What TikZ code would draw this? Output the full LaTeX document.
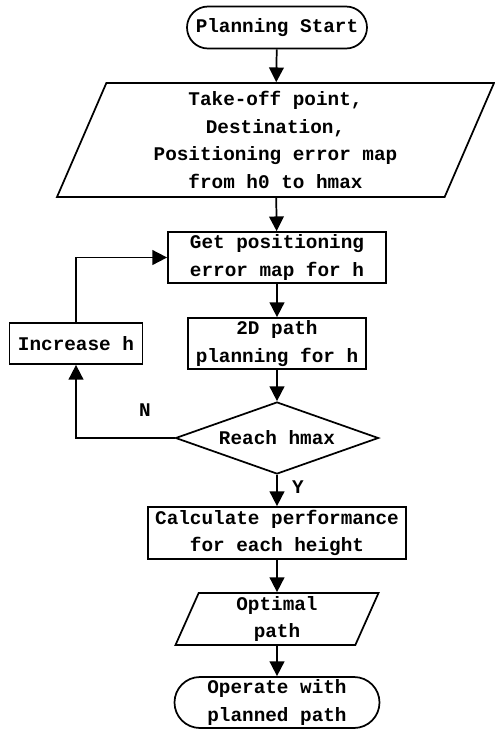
\documentclass[tikz,border=0pt]{standalone}
\usepackage{fontspec}
\setmonofont{Liberation Mono}
\usetikzlibrary{shapes.geometric,shapes.misc,arrows.meta}
\begin{document}
\begin{tikzpicture}[x=0.75pt, y=-0.75pt, line width=1.3pt,
  every node/.style={font=\ttfamily\bfseries\fontsize{14.5}{20.6}\selectfont, align=center, inner sep=0pt},
  term/.style={draw, rounded rectangle},
  box/.style={draw, rectangle},
  io/.style={draw, trapezium, trapezium left angle=63, trapezium right angle=117, trapezium stretches body},
  test/.style={draw, diamond, aspect=2.82},
  >={Triangle[width=11pt,length=11pt]}]
\useasboundingbox (0,0) rectangle (494,729);

\node[term, minimum width=135pt, minimum height=31.5pt] (S) at (277, 27.5) {Planning Start};
\node[io, minimum width=327.75pt, minimum height=85.5pt] (I) at (275.5, 140) {Take-off point,\\Destination,\\Positioning error map\\from h0 to hmax};
\node[box, minimum width=163.5pt, minimum height=38.25pt] (G) at (277, 257.5) {Get positioning\\error map for h};
\node[box, minimum width=133.5pt, minimum height=38.25pt] (P) at (277, 343.5) {2D path\\planning for h};
\node[box, minimum width=99.75pt, minimum height=30.75pt] (H) at (76, 343.5) {Increase h};
\node[test, minimum width=152.25pt, minimum height=54pt] (R) at (277, 438) {Reach hmax};
\node[box, minimum width=193.5pt, minimum height=39pt] (C) at (277, 533) {Calculate performance\\for each height};
\node[io, minimum width=152.25pt, minimum height=39pt] (O) at (277, 619) {Optimal\\path};
\node[term, minimum width=153.75pt, minimum height=38.25pt] (E) at (277, 702.5) {Operate with\\planned path};

\node (N) at (145, 410) {N};
\node (Y) at (298, 487) {Y};

\draw[->] (S) to (I);
\draw[->] (I) to (G);
\draw[->] (G) to (P);
\draw[->] (P) to (R);
\draw[->] (R) to (C);
\draw[->] (C) to (O);
\draw[->] (O) to (E);
\draw[->] (R.west) -| (H);
\draw[->] (H) |- (G);
\end{tikzpicture}
\end{document}
